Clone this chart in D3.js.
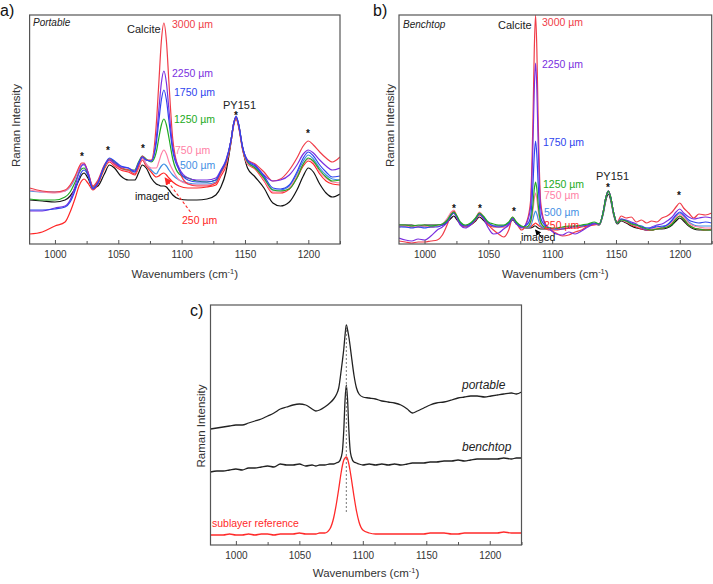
<!DOCTYPE html>
<html><head><meta charset="utf-8">
<script src="https://cdn.jsdelivr.net/npm/d3@7"></script>
<style>
body{margin:0;background:#fff}
svg{display:block;font-family:"Liberation Sans",Arial,sans-serif}
</style>
</head><body>
<svg id="chart" width="713" height="584"></svg>
<script>
// ---------------- DATA ----------------
const xDomain = [980, 1225];
const majorTicks = [1000, 1050, 1100, 1150, 1200];
const minorTicks = [1025, 1075, 1125, 1175, 1225];

// Panel a) portable
const aW = [980,990,1000,1008,1012,1016,1019,1021,1023,1026,1030,1034,1039,1043,1047,1052,1058,1063,1066,1069,1072,1076,1080,1082,1084,1086,1088,1090,1093,1098,1105,1112,1120,1127,1131,1135,1139,1141,1143,1145,1148,1152,1158,1165,1172,1178,1185,1191,1196,1200,1204,1209,1214,1219,1225];
const a3000 = [56,53,52,54,59,68,77,81,81,72,58,64,79,85,80,76,74,70,78,88,84,84, 120,161,203,221,203,161,105,74, 60,58,58,61,72,82, 104,120,127,119,97, 84,80,72,63,65,74,86,98,103,99,92,86,82,87];
const a2250 = [33,33,36,38,44,58,72,78,80,72,56,62,78,84,81,77,76,73,81,87,84,83, 106,134,161,173,161,134,97,76, 66,64,64,66,74,84, 104,120,127,119,97, 84,79,69,63,64,69,79,90,94,91,84,78,74,76];
const a1750 = [34,34,35,37,42,54,66,72,74,69,55,61,78,86,83,78,76,72,80,87,84,83, 101,123,144,154,144,123,93,74, 64,62,62,64,73,83, 104,120,128,120,98, 83,78,68,56,55,59,72,86,92,88,79,72,67,68];
const a1250 = [45,44,44,47,52,62,71,75,76,70,57,62,77,85,82,76,74,74,82,88,85,82, 92,106,119,125,119,106,85,70, 66,63,62,64,72,82, 104,120,127,119,97, 82,76,66,54,53,55,66,80,86,83,74,67,63,64];
const a750  = [54,52,51,53,58,67,76,80,80,72,57,62,77,83,79,75,73,70,77,86,80,76, 76,82,90,94,90,82,74,64, 60,59,59,61,70,80, 104,120,127,119,97, 80,76,64,52,52,56,68,80,85,82,72,66,62,61];
const a500  = [53,52,52,53,57,66,75,79,79,71,56,62,78,84,80,76,74,72,79,86,80,74, 70,74,78,80,78,74,69,64, 61,60,60,62,71,81, 104,120,127,119,97, 82,77,66,54,54,58,70,83,89,85,76,69,65,64];
const a250  = [10,12,18,22,32,46,58,63,65,61,54,60,75,82,78,74,72,69,76,84,78,72, 67,68,70,71,69,66,62,58, 56,56,57,59,68,78, 102,118,125,117,95, 80,75,63,51,51,55,66,78,83,80,70,63,60,59];
const aImaged = [44,43,42,44,48,56,64,69,71,66,56,58,70,79,76,68,64,64,71,79,76,66, 60,59,58,58,57,54,49,45, 44,44,45,49,57,72, 102,119,126,118,96, 76,67,56,41,38,42,54,68,76,72,60,51,47,50];

// Panel b) benchtop
const bW = [980,985,990,995,1000,1005,1010,1014,1018,1021,1023,1025,1028,1032,1036,1040,1043,1046,1050,1054,1058,1062,1066,1069,1072,1076,1080,1083,1085,1086,1087,1088,1089,1091,1094,1098,1103,1108,1113,1118,1123,1128,1133,1137,1140,1142,1144,1146,1148,1151,1154,1158,1162,1166,1170,1174,1178,1182,1186,1190,1194,1197,1200,1203,1207,1211,1215,1220,1225];
const b3000 = [3,2,1,2,2,3,4,9,20,30, 33,28,20,18,20,24,31,27,19,14, 10,7,14,26,21,14,22,42,127,195, 229,195,127,42,22,15,11,8,9,12, 14,18,20,20,32,46,53,46,32,22, 28,26,27,22,24,21,23,22,26,28, 32,37,41,36,31,26,30,29,31];
const b2250 = [6,4,3,5,4,8,14,17,22,29, 31,27,19,16,19,25,30,26,16,10, 11,15,19,25,20,16,21,36,102,155, 181,155,102,36,21,15,10,9,12,10, 13,17,20,20,32,46,53,46,32,21, 25,24,22,20,16,14,17,19,20,23, 27,32,35,31,27,25,26,27,26];
const b1750 = [17,17,16,17,16,17,17,19,23,29, 31,28,21,18,20,25,30,27,21,18, 17,18,21,26,21,17,19,26,61,89, 103,89,61,26,19,16,15,15,16,18, 18,19,21,20,32,46,53,46,32,21, 25,23,21,19,18,16,16,18,17,19, 24,29,32,29,24,22,21,22,21];
const b1250 = [19,19,18,19,19,18,19,20,24,30, 32,29,22,19,21,26,31,28,22,20, 19,19,22,27,22,18,17,22,40,55, 62,55,40,22,17,16,16,17,18,18, 19,20,22,20,32,46,53,46,32,21, 24,23,20,19,17,15,14,15,16,17, 20,25,28,25,19,16,15,14,14];
const b750  = [18,18,17,18,18,17,18,20,26,32, 34,29,21,18,20,26,32,28,20,18, 17,17,21,27,21,17,17,20,34,45, 51,45,34,20,17,15,15,16,17,17, 18,19,20,20,32,46,53,46,32,21, 24,22,20,18,16,15,15,16,17,18, 22,27,30,27,21,18,17,16,16];
const b500  = [18,17,17,18,17,18,18,20,25,30, 32,28,21,18,20,25,30,27,20,18, 18,18,21,26,21,17,16,18,25,30, 33,30,25,18,16,15,15,16,17,17, 18,19,20,20,32,46,53,46,32,21, 24,23,20,18,17,16,16,17,18,19, 23,28,31,28,22,19,18,18,18];
const b250  = [17,18,17,17,18,17,18,19,24,29, 31,27,20,17,19,24,29,26,19,17, 17,17,20,25,20,17,16,17,19,20, 21,20,19,17,16,14,14,15,16,16, 17,18,19,20,32,46,53,46,32,21, 24,22,19,17,15,14,14,15,16,17, 21,25,28,25,19,16,15,14,15];
const bImaged = [19,19,19,18,19,19,19,19,22,26, 28,25,20,18,19,23,27,24,19,18, 18,18,20,24,20,17,16,16,17,18, 18,17,16,15,15,15,15,16,17,17, 18,19,20,19,30,43,50,43,30,20, 23,21,18,16,15,14,14,15,15,16, 19,23,26,23,18,15,14,14,14];

// Panel c) comparison
const cW = [980,985,990,995,1000,1005,1010,1015,1020,1025,1030,1035,1040,1045,1050,1055,1060,1063,1066,1070,1074,1077,1079,1081,1083,1084,1085,1086,1087,1088,1089,1090,1091,1093,1095,1097,1100,1105,1110,1115,1120,1125,1130,1135,1139,1143,1148,1153,1158,1164,1170,1175,1180,1185,1190,1196,1201,1206,1211,1217,1221,1225];
const cPortable = [116,117,118,119,120,120,122,124,126,129, 132,136,138,140,141,140,136,134,135,138, 142,146,150,157,175,185,196,210,220,215, 208,199,189,170,157,151,148,147,146,144, 143,142,140,136,132,134,137,140,142,143, 145,147,148,149,149,148,149,150,151,152, 151,153];
const cBenchtop = [73,74,74,75,76,75,77,77,78,79, 78,81,80,80,81,79,80,79,80,80, 81,81,82,83,88,95,115,145,160,145, 115,95,88,83,82,81,80,81,80,81, 80,81,80,81,82,82,82,83,83,84, 84,85,84,85,86,86,86,86,87,86, 87,87];
const cSublayer = [10,10,10,11,10,10,11,10,11,11, 10,11,11,11,12,11,11,11,12,12, 16,27,40,56,73,80,85,87,88,86, 81,74,66,49,34,23,15,12,11,11, 11,11,11,11,11,11,11,12,12,12, 11,11,12,12,12,12,12,12,13,12, 12,12];
const calcitePosition = 1087;
const calciteGuideRange = [33, 220];

// ---------------- DRAWING ----------------
const svg = d3.select("#chart");
const defs = svg.append("defs");
defs.append("marker").attr("id","arrowRed").attr("viewBox","0 0 8 8").attr("refX",7).attr("refY",4)
  .attr("markerWidth",7).attr("markerHeight",7).attr("orient","auto")
  .append("path").attr("d","M0,0 L8,4 L0,8 z").attr("fill","#ff2a2a");
defs.append("marker").attr("id","arrowBlack").attr("viewBox","0 0 8 8").attr("refX",7).attr("refY",4)
  .attr("markerWidth",5).attr("markerHeight",5).attr("orient","auto")
  .append("path").attr("d","M0,0 L8,4 L0,8 z").attr("fill","#000");

const C = {
  r3000:"#f03c48", p2250:"#7a2fe0", b1750:"#2e44ee", g1250:"#22aa22",
  k750:"#ff7fa6", l500:"#3f8fe4", r250:"#ff2626", black:"#111"
};

function makePanel(p){
  const g = svg.append("g").attr("transform",`translate(${p.left},${p.top})`);
  const x = d3.scaleLinear().domain(xDomain).range([0,p.width]);
  const y = d3.scaleLinear().domain([0,p.yMax]).range([p.height,0]);
  const cid = "clip_"+p.id;
  defs.append("clipPath").attr("id",cid).append("rect").attr("width",p.width).attr("height",p.height);
  const lg = g.append("g").attr("clip-path",`url(#${cid})`);
  p.series.forEach(s=>{
    const line = d3.line().x((d,i)=>x(s.w[i])).y(d=>y(d)).curve(d3.curveMonotoneX);
    lg.append("path").attr("d",line(s.v)).attr("fill","none")
      .attr("stroke",s.color).attr("stroke-width",s.sw||1.2).attr("stroke-linejoin","round");
  });
  const ax = g.append("g").attr("transform",`translate(0,${p.height})`)
    .call(d3.axisBottom(x).tickValues(majorTicks).tickSize(-4).tickPadding(6.5).tickFormat(d3.format("d")));
  ax.select(".domain").remove();
  ax.selectAll("line").attr("stroke","#555");
  ax.selectAll("text").attr("font-size",10).attr("fill","#333").attr("font-family",'"Liberation Sans",Arial,sans-serif');
  const mx = g.append("g").attr("transform",`translate(0,${p.height})`)
    .call(d3.axisBottom(x).tickValues(minorTicks).tickSize(-3).tickFormat(""));
  mx.select(".domain").remove();
  mx.selectAll("line").attr("stroke","#555");
  g.append("rect").attr("width",p.width).attr("height",p.height).attr("fill","none")
    .attr("stroke","#555").attr("stroke-width",1.2);
  // axis titles
  const t = g.append("text").attr("x",p.width/2).attr("y",p.height+p.xtY).attr("text-anchor","middle")
    .attr("font-size",11.5).attr("fill","#333");
  t.append("tspan").text("Wavenumbers (cm");
  t.append("tspan").attr("dy",-4.5).attr("font-size",7.5).text("-1");
  t.append("tspan").attr("dy",4.5).text(")");
  g.append("text").attr("transform",`translate(${p.ytX},${p.height/2+p.ytDy}) rotate(-90)`)
    .attr("text-anchor","middle").attr("font-size",11.5).attr("fill","#333").text("Raman Intensity");
  return {g,x,y};
}

function label(x,y,txt,o={}){
  return svg.append("text").attr("x",x).attr("y",y).text(txt)
    .attr("font-size",o.size||10.5).attr("fill",o.color||"#222")
    .attr("font-style",o.italic?"italic":null).attr("font-weight",o.bold?"bold":null)
    .attr("text-anchor",o.anchor||"start");
}

// ---- Panel a
const A = makePanel({id:"a",left:29.6,top:15,width:310.4,height:229,yMax:229,xtY:34,ytX:-10,ytDy:-4,
  series:[
    {w:aW,v:aImaged,color:C.black},
    {w:aW,v:a250,color:C.r250},
    {w:aW,v:a500,color:C.l500},
    {w:aW,v:a750,color:C.k750},
    {w:aW,v:a1250,color:C.g1250},
    {w:aW,v:a3000,color:C.r3000},
    {w:aW,v:a2250,color:C.p2250},
    {w:aW,v:a1750,color:C.b1750}
  ]});
A.g.append("line").attr("x1",A.x(1107)).attr("y1",A.y(32)).attr("x2",A.x(1087)).attr("y2",A.y(66))
  .attr("stroke","#ff2a2a").attr("stroke-width",1.1).attr("stroke-dasharray","3,2").attr("marker-end","url(#arrowRed)");
label(0,16,"a)",{size:16,color:"#111"});
label(33,26,"Portable",{size:10,italic:true});
label(127,33,"Calcite",{size:11});
label(172,28,"3000 µm",{color:C.r3000});
label(172,77,"2250 µm",{color:C.p2250});
label(174,96,"1750 µm",{color:C.b1750});
label(174,123,"1250 µm",{color:C.g1250});
label(175,154,"750 µm",{color:C.k750});
label(180,169,"500 µm",{color:C.l500});
label(135,200,"imaged",{color:"#111"});
label(182,224,"250 µm",{color:C.r250});
label(223,109,"PY151",{size:11});
[[82,160],[108,154],[143,152],[236,119],[308,137]].forEach(s=>label(s[0],s[1],"*",{size:10,bold:true,anchor:"middle",color:"#111"}));

// ---- Panel b
const B = makePanel({id:"b",left:399,top:15,width:312.7,height:229,yMax:229,xtY:34,ytX:-5,ytDy:-4,
  series:[
    {w:bW,v:bImaged,color:C.black},
    {w:bW,v:b250,color:C.r250},
    {w:bW,v:b500,color:C.l500},
    {w:bW,v:b750,color:C.k750},
    {w:bW,v:b3000,color:C.r3000},
    {w:bW,v:b2250,color:C.p2250},
    {w:bW,v:b1750,color:C.b1750},
    {w:bW,v:b1250,color:C.g1250}
  ]});
B.g.append("line").attr("x1",B.x(1092)).attr("y1",B.y(6)).attr("x2",B.x(1087)).attr("y2",B.y(14))
  .attr("stroke","#000").attr("stroke-width",1.2).attr("marker-end","url(#arrowBlack)");
label(373,16,"b)",{size:16,color:"#111"});
label(403,28,"Benchtop",{size:10,italic:true});
label(498,29,"Calcite",{size:11});
label(542,26,"3000 µm",{color:C.r3000});
label(542,68,"2250 µm",{color:C.p2250});
label(543,146,"1750 µm",{color:C.b1750});
label(543,188,"1250 µm",{color:C.g1250});
label(544,199,"750 µm",{color:C.k750});
label(544,216,"500 µm",{color:C.l500});
label(544,229,"250 µm",{color:C.r250});
label(521,241,"imaged",{color:"#111"});
label(596,180,"PY151",{size:11});
[[454,212],[480,212],[514,215],[608,191],[679,199]].forEach(s=>label(s[0],s[1],"*",{size:10,bold:true,anchor:"middle",color:"#111"}));

// ---- Panel c
const Cp = makePanel({id:"c",left:210.5,top:305,width:311,height:240,yMax:240,xtY:32,ytX:-6,ytDy:1,
  series:[
    {w:cW,v:cSublayer,color:"#ff2a2a",sw:1.3},
    {w:cW,v:cBenchtop,color:"#222",sw:1.3},
    {w:cW,v:cPortable,color:"#222",sw:1.3}
  ]});
Cp.g.append("line").attr("x1",Cp.x(calcitePosition)).attr("x2",Cp.x(calcitePosition))
  .attr("y1",Cp.y(calciteGuideRange[0])).attr("y2",Cp.y(calciteGuideRange[1]))
  .attr("stroke","#777").attr("stroke-width",1).attr("stroke-dasharray","2,2");
label(190,316,"c)",{size:16,color:"#111"});
label(462,389,"portable",{size:12,italic:true});
label(462,451,"benchtop",{size:12,italic:true});
label(212,527,"sublayer reference",{size:10.5,color:"#ff2a2a"});
</script>
</body></html>
